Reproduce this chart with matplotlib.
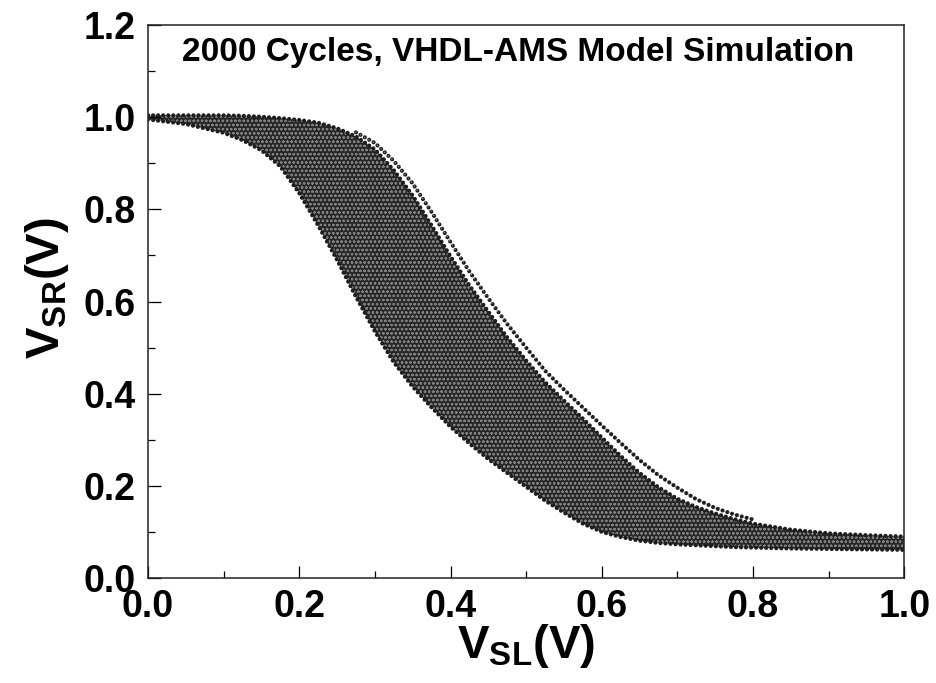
import matplotlib

matplotlib.use("Agg")
import matplotlib.pyplot as plt

# band of simulated transfer curves
vsl = [0.0, 0.05, 0.1, 0.125, 0.15, 0.175, 0.2, 0.225, 0.25, 0.275, 0.3, 0.325,
       0.35, 0.375, 0.4, 0.425, 0.45, 0.475, 0.5, 0.525, 0.55, 0.575, 0.6, 0.625,
       0.65, 0.675, 0.7, 0.725, 0.75, 0.775, 0.8, 0.85, 0.9, 0.95, 1.0]
vsr_low = [0.995, 0.985, 0.966, 0.950, 0.928, 0.893, 0.835, 0.765, 0.690, 0.610,
           0.535, 0.468, 0.415, 0.370, 0.328, 0.292, 0.258, 0.228, 0.198, 0.168,
           0.142, 0.118, 0.100, 0.089, 0.081, 0.076, 0.073, 0.071, 0.069, 0.067,
           0.066, 0.064, 0.063, 0.062, 0.061]
vsr_high = [1.004, 1.004, 1.004, 1.003, 1.001, 0.998, 0.994, 0.988, 0.976, 0.958,
            0.930, 0.885, 0.830, 0.765, 0.698, 0.635, 0.578, 0.522, 0.472, 0.425,
            0.385, 0.346, 0.305, 0.265, 0.228, 0.197, 0.172, 0.154, 0.140, 0.128,
            0.118, 0.105, 0.097, 0.093, 0.090]

# the single outlying curve right of the white gap
vsl_outer = [0.275, 0.3, 0.325, 0.35, 0.375, 0.4, 0.425, 0.45, 0.475, 0.5, 0.525,
             0.55, 0.575, 0.6, 0.625, 0.65, 0.675, 0.7, 0.725, 0.75, 0.775, 0.8]
vsr_outer = [0.967, 0.944, 0.905, 0.856, 0.794, 0.729, 0.665, 0.607, 0.551, 0.500,
             0.450, 0.409, 0.370, 0.331, 0.293, 0.256, 0.223, 0.196, 0.171, 0.152,
             0.138, 0.127]

plt.rcParams["font.family"] = ["Liberation Sans", "DejaVu Sans"]
plt.rcParams["font.weight"] = "bold"
plt.rcParams["mathtext.fontset"] = "custom"
plt.rcParams["mathtext.bf"] = "Liberation Sans:bold"
plt.rcParams["mathtext.rm"] = "Liberation Sans:bold"
plt.rcParams["hatch.color"] = "#808080"
plt.rcParams["hatch.linewidth"] = 0.6

fig = plt.figure(figsize=(9.37, 6.83), dpi=100)
ax = fig.add_axes([0.158, 0.1537, 0.807, 0.8097])

ax.fill_between(vsl, vsr_low, vsr_high, facecolor="#262626", edgecolor="#808080",
                hatch="oooo", linewidth=0)
dots = dict(color="#1e1e1e", linewidth=3.0, linestyle=(0, (0.01, 1.2)),
            dash_capstyle="round")
ax.plot(vsl, vsr_low, **dots)
ax.plot(vsl, vsr_high, **dots)
ax.plot(vsl_outer, vsr_outer, **dots)
ax.plot(vsl_outer, vsr_outer, color="#a0a0a0", linewidth=1.0,
        linestyle=(0, (0.01, 3.6)), dash_capstyle="round")

ax.set_xlim(0, 1.0)
ax.set_ylim(0, 1.2)
ax.set_xticks([0.0, 0.2, 0.4, 0.6, 0.8, 1.0])
ax.set_yticks([0.0, 0.2, 0.4, 0.6, 0.8, 1.0, 1.2])
ax.set_xticks([0.1, 0.3, 0.5, 0.7, 0.9], minor=True)
ax.set_yticks([0.1, 0.3, 0.5, 0.7, 0.9, 1.1], minor=True)
ax.xaxis.set_major_formatter(matplotlib.ticker.FormatStrFormatter("%.1f"))
ax.yaxis.set_major_formatter(matplotlib.ticker.FormatStrFormatter("%.1f"))
ax.tick_params(which="both", direction="in", top=False, right=False, width=0.9)
ax.tick_params(which="major", length=9, labelsize=27)
ax.tick_params(which="minor", length=5)
ax.tick_params(axis="x", which="major", pad=8)
ax.tick_params(axis="y", which="major", pad=9)
for sp in ax.spines.values():
    sp.set_linewidth(1.1)
    sp.set_color("#222222")

ax.set_xlabel(r"$\mathbf{V_{SL}(V)}$", fontsize=34)
ax.xaxis.set_label_coords(0.5, -0.08)
ax.set_ylabel(r"$\mathbf{V_{SR}(V)}$", fontsize=34)
ax.yaxis.set_label_coords(-0.102, 0.524)
ax.text(0.49, 0.951, "2000 Cycles, VHDL-AMS Model Simulation", transform=ax.transAxes,
        ha="center", va="center", fontsize=24, fontweight="bold")

fig.savefig("out.png", dpi=100)
